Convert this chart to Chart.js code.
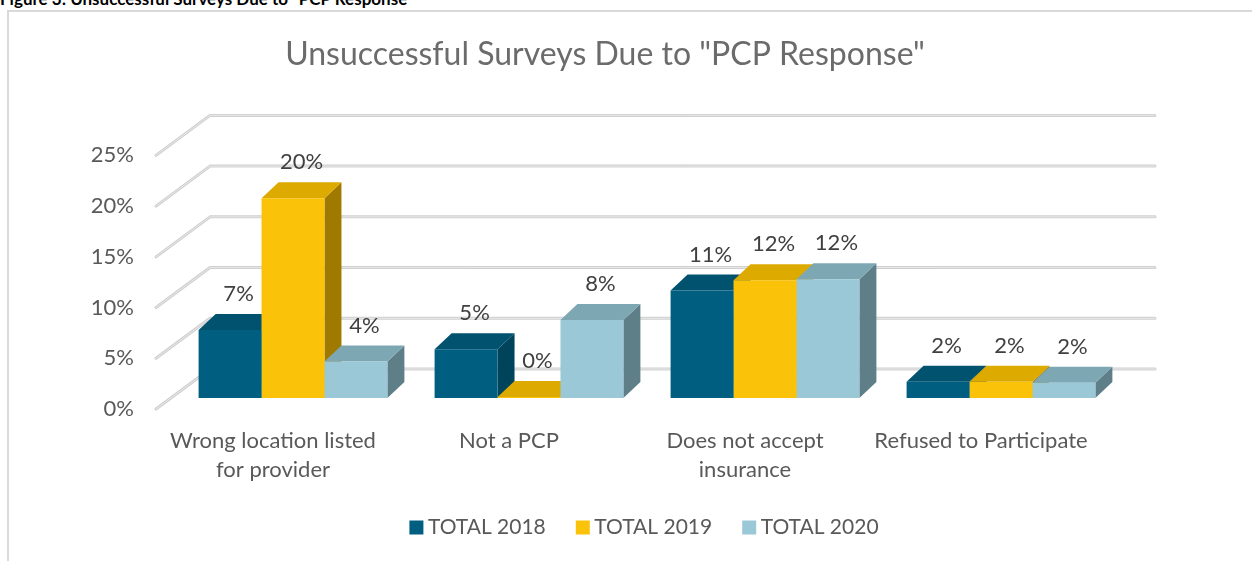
<!DOCTYPE html>
<html>
<head>
<meta charset="utf-8">
<title>Unsuccessful Surveys Due to "PCP Response"</title>
<script src="https://cdn.jsdelivr.net/npm/chart.js@4.4.1/dist/chart.umd.min.js"></script>
<style>
  body { margin: 0; background: #fff; width: 1252px; height: 561px; overflow: hidden; position: relative; font-family: Lato, "Liberation Sans", sans-serif; }
  #caption { position: absolute; left: 0; top: -10px; font-weight: bold; font-size: 17px; line-height: 18px; color: #000; white-space: nowrap; }
  #frame { position: absolute; left: 7px; top: 10px; width: 1280px; height: 600px; border: 2px solid #d9d9d9; box-sizing: border-box; }
  #wrap { position: absolute; left: 9px; top: 12px; width: 1243px; height: 536px; }
</style>
</head>
<body>
<div id="caption">Figure 3: Unsuccessful Surveys Due to "PCP Response"</div>
<div id="frame"></div>
<div id="wrap"><canvas id="chart"></canvas></div>
<script>
// data
const categories = [['Wrong location listed', 'for provider'], 'Not a PCP', ['Does not accept', 'insurance'], 'Refused to Participate'];
const seriesNames = ['TOTAL 2018', 'TOTAL 2019', 'TOTAL 2020'];
const total2018 = [0.067, 0.048, 0.106, 0.016];
const total2019 = [0.197, 0.001, 0.116, 0.016];
const total2020 = [0.036, 0.077, 0.117, 0.015];
const yTicks = [0, 0.05, 0.10, 0.15, 0.20, 0.25];

// colours of the front, top and side faces of each series
const frontColors = ['#005F80', '#FAC30A', '#9AC8D6'];
const topColors = ['#00526E', '#DDAA00', '#7EA7B4'];
const sideColors = ['#00445B', '#A07A00', '#5E7E88'];

const depthX = 17;   // how far the back of a bar is pushed right
const depthY = -16;  // and up

const pct = v => Math.round(v * 100) + '%';

// draws the 3D walls, the bar tops and sides, and the value labels
const fake3d = {
  id: 'fake3d',
  beforeDatasetsDraw(chart) {
    const { ctx, chartArea } = chart;
    const yScale = chart.scales.y;
    const frontX = chartArea.left - 19;
    const backX = chartArea.left + 35;
    const rightX = chartArea.right + 36;

    ctx.save();
    ctx.lineCap = 'round';
    ctx.lineJoin = 'round';
    yScale.ticks.forEach(t => {
      const p = yScale.getPixelForValue(t.value);
      ctx.beginPath();
      ctx.moveTo(frontX, p + 11);
      ctx.lineTo(backX, p - 29);
      ctx.lineTo(rightX, p - 29);
      ctx.strokeStyle = '#cfcfcf';
      ctx.lineWidth = 3;
      ctx.stroke();
      ctx.strokeStyle = '#e9e9e9';
      ctx.lineWidth = 1;
      ctx.stroke();
    });

    chart.data.datasets.forEach((ds, i) => {
      chart.getDatasetMeta(i).data.forEach(bar => {
        const { x, y, base, width } = bar.getProps(['x', 'y', 'base', 'width'], true);
        const l = x - width / 2, r = x + width / 2;
        // right side
        ctx.fillStyle = sideColors[i];
        ctx.beginPath();
        ctx.moveTo(r, y);
        ctx.lineTo(r + depthX, y + depthY);
        ctx.lineTo(r + depthX, base + depthY);
        ctx.lineTo(r, base);
        ctx.closePath();
        ctx.fill();
        // top
        ctx.fillStyle = topColors[i];
        ctx.beginPath();
        ctx.moveTo(l, y);
        ctx.lineTo(r, y);
        ctx.lineTo(r + depthX, y + depthY);
        ctx.lineTo(l + depthX, y + depthY);
        ctx.closePath();
        ctx.fill();
      });
    });
    ctx.restore();
  },
  afterDatasetsDraw(chart) {
    const { ctx } = chart;
    ctx.save();
    ctx.font = '22px Lato';
    ctx.fillStyle = '#404040';
    ctx.textAlign = 'center';
    ctx.textBaseline = 'middle';
    chart.data.datasets.forEach((ds, i) => {
      chart.getDatasetMeta(i).data.forEach((bar, j) => {
        ctx.fillText(pct(ds.data[j]), bar.x + depthX / 2, bar.y - 36);
      });
    });
    ctx.restore();
  }
};

const seriesValues = [total2018, total2019, total2020];

new Chart(document.getElementById('chart'), {
  type: 'bar',
  data: {
    labels: categories,
    datasets: seriesNames.map((name, i) => ({
      label: name,
      data: seriesValues[i],
      backgroundColor: frontColors[i],
      borderWidth: 0,
      categoryPercentage: 0.8,
      barPercentage: 1
    }))
  },
  options: {
    responsive: true,
    maintainAspectRatio: false,
    animation: false,
    layout: { padding: { left: 82, right: 133, top: 0, bottom: 0 } },
    scales: {
      x: {
        grid: { display: false, drawTicks: false },
        border: { display: false },
        afterFit: axis => { axis.height = 83; },
        ticks: {
          padding: 28.5,
          labelOffset: -20,
          maxRotation: 0,
          autoSkip: false,
          color: '#595959',
          font: { family: 'Lato', size: 22, lineHeight: 1.32 }
        }
      },
      y: {
        min: 0,
        max: 0.25,
        grid: { display: false, drawTicks: false },
        border: { display: false },
        afterBuildTicks: axis => { axis.ticks = yTicks.map(v => ({ value: v })); },
        afterFit: axis => { axis.width = 84; },
        ticks: {
          padding: 41,
          labelOffset: 11,
          color: '#595959',
          font: { family: 'Lato', size: 22 },
          callback: v => pct(v)
        }
      }
    },
    plugins: {
      title: {
        display: true,
        text: 'Unsuccessful Surveys Due to "PCP Response"',
        color: '#6b6b6b',
        font: { family: 'Lato', size: 32, weight: 'normal', lineHeight: 1.2 },
        padding: { top: 23, bottom: 71 }
      },
      legend: {
        position: 'bottom',
        fullSize: false,
        labels: {
          usePointStyle: true,
          pointStyle: 'rect',
          boxWidth: 2,
          boxHeight: 14,
          padding: 36,
          color: '#595959',
          font: { family: 'Lato', size: 21 }
        }
      },
      tooltip: { enabled: false }
    }
  },
  plugins: [fake3d]
});
</script>
</body>
</html>
